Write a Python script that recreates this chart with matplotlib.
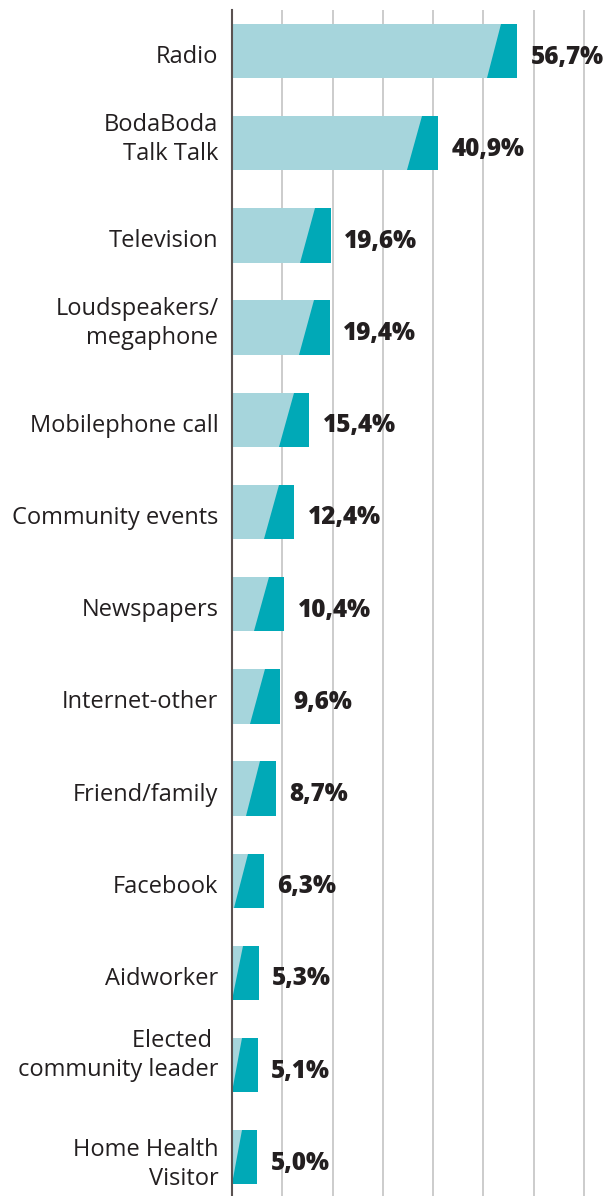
import matplotlib.pyplot as plt
from matplotlib.patches import Polygon
from matplotlib.transforms import offset_copy

# Share of respondents by information source
categories = ["Radio", "BodaBoda\nTalk Talk", "Television", "Loudspeakers/\nmegaphone",
              "Mobilephone call", "Community events", "Newspapers", "Internet-other",
              "Friend/family", "Facebook", "Aidworker", "Elected \ncommunity leader",
              "Home Health\nVisitor"]
values = [56.7, 40.9, 19.6, 19.4, 15.4, 12.4, 10.4, 9.6, 8.7, 6.3, 5.3, 5.1, 5.0]
value_labels = ["56,7%", "40,9%", "19,6%", "19,4%", "15,4%", "12,4%", "10,4%",
                "9,6%", "8,7%", "6,3%", "5,3%", "5,1%", "5,0%"]

light = "#a6d5dc"
dark = "#00a9b7"
text_col = "#231f20"

plt.rcParams['font.family'] = ['Open Sans', 'DejaVu Sans']

fig = plt.figure(figsize=(6.03, 11.96), dpi=100)
ax = fig.add_axes([232 / 603, 0, 1 - 232 / 603, 1 - 10 / 1196])


def shifted(px):
    # move text down by px pixels
    return offset_copy(ax.transData, fig=fig, x=0, y=-px, units="dots")


# label nudges (pixels, downward) for the two-line labels that sit off-centre
nudge = {"Elected \ncommunity leader": -10, "Home Health\nVisitor": 7}

bar_h = 0.59
for i, (v, lab) in enumerate(zip(values, value_labels)):
    ax.barh(i, v, height=bar_h, color=light, zorder=2)
    # darker slanted tip at the end of each bar
    top, bot = i - bar_h / 2, i + bar_h / 2
    tip = Polygon([(max(v - 3.1, 0), top), (v, top), (v, bot), (max(v - 6.0, 0), bot)],
                  closed=True, facecolor=dark, edgecolor="none", zorder=3)
    ax.add_patch(tip)
    ax.text(v + 2.7, i, lab, va="center", ha="left", fontsize=17.5,
            fontweight=800, color=text_col, transform=shifted(6))
    cat = categories[i]
    dy = nudge.get(cat, -4 if "\n" in cat else 6)
    ax.text(-2.7, i, cat, va="center", ha="right", fontsize=17,
            color=text_col, linespacing=1.27, transform=shifted(dy))

ax.set_xlim(0, 73.8)
ax.set_ylim(12.42, -0.445)
ax.set_xticks(range(10, 71, 10))
ax.grid(axis="x", color="#c4c4c4", linewidth=1.2, zorder=0)
ax.set_yticks([])
ax.tick_params(axis="x", length=0, labelbottom=False)
for side in ["top", "right", "bottom"]:
    ax.spines[side].set_visible(False)
ax.spines["left"].set_color("#5a5251")
ax.spines["left"].set_linewidth(1.5)
ax.spines["left"].set_zorder(4)

plt.savefig("out.png", dpi=100)
